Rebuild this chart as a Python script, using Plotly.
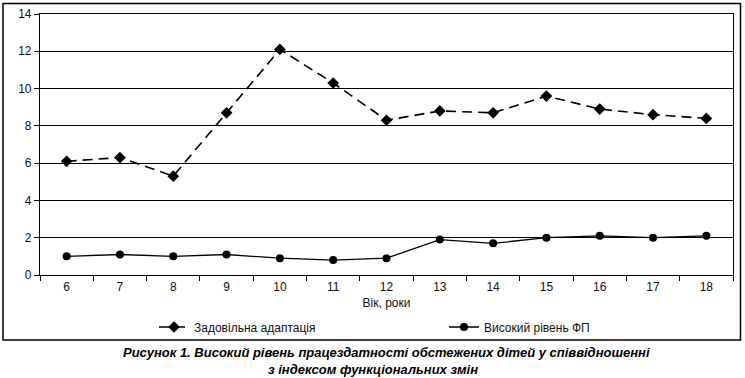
import plotly.graph_objects as go

ages = ["6", "7", "8", "9", "10", "11", "12", "13", "14", "15", "16", "17", "18"]
adaptation = [6.1, 6.3, 5.3, 8.7, 12.1, 10.3, 8.3, 8.8, 8.7, 9.6, 8.9, 8.6, 8.4]
high_fp = [1.0, 1.1, 1.0, 1.1, 0.9, 0.8, 0.9, 1.9, 1.7, 2.0, 2.1, 2.0, 2.1]
y_ticks = [0, 2, 4, 6, 8, 10, 12, 14]
series_names = ["Задовільна адаптація", "Високий рівень ФП"]
x_title = "Вік, роки"
caption_lines = ["Рисунок 1. Високий рівень працездатності обстежених дітей у співвідношенні",
                 "з індексом функціональних змін"]

W, H = 745, 378
L, R, T, B = 40, 12, 14, 103
pw, ph = W - L - R, H - T - B

def px_x(x):
    return (x - L) / pw

def px_y(y):
    return (H - B - y) / ph

fig = go.Figure()
fig.add_trace(go.Scatter(
    x=ages, y=adaptation, name=series_names[0], mode="lines+markers",
    line=dict(color="black", width=1.6, dash="10px,6px"),
    marker=dict(symbol="diamond", size=9, color="black"),
    legend="legend",
))
fig.add_trace(go.Scatter(
    x=ages, y=high_fp, name=series_names[1], mode="lines+markers",
    line=dict(color="black", width=1.3),
    marker=dict(symbol="circle", size=8, color="black"),
    legend="legend2",
))

font_main = "Liberation Sans, Arial, sans-serif"
leg_common = dict(orientation="h", xanchor="left", yanchor="middle", y=px_y(327),
                  font=dict(size=12, family=font_main, color="#111"),
                  bgcolor="rgba(0,0,0,0)", itemwidth=30)

fig.update_layout(
    width=W, height=H,
    margin=dict(l=L, r=R, t=T, b=B, autoexpand=False),
    paper_bgcolor="white", plot_bgcolor="white",
    showlegend=True,
    font=dict(family=font_main, size=12, color="#111"),
    legend=dict(x=px_x(154), **leg_common),
    legend2=dict(x=px_x(444), **leg_common),
    xaxis=dict(
        type="category", showgrid=False, showline=True, linecolor="black", linewidth=1.2,
        mirror=True, ticks="outside", ticklen=5, tickcolor="black",
        tickson="boundaries", tickfont=dict(size=12),
        title=dict(text=x_title, standoff=6, font=dict(size=12)),
        range=[-0.5, len(ages) - 0.5],
    ),
    yaxis=dict(
        range=[0, 14], tickvals=y_ticks, showgrid=True, gridcolor="black", gridwidth=1,
        showline=True, linecolor="black", linewidth=1.2, mirror=True,
        ticks="outside", ticklen=5, tickcolor="black", tickfont=dict(size=12),
        zeroline=False,
    ),
)

# outer frame
fig.add_shape(type="rect", xref="paper", yref="paper",
              x0=px_x(3), x1=px_x(740.5), y0=px_y(340), y1=px_y(3.5),
              line=dict(color="black", width=1.5), fillcolor="rgba(0,0,0,0)", layer="below")

cap_font = dict(family="Liberation Sans Narrow, Arial Narrow, Liberation Sans, sans-serif",
                size=13, color="black")
for i, (line, ypix) in enumerate(zip(caption_lines, [352, 369])):
    fig.add_annotation(text="<b><i>" + line + "</i></b>", xref="paper", yref="paper",
                       x=px_x(387 if i == 0 else 373), y=px_y(ypix), showarrow=False,
                       xanchor="center", yanchor="middle", font=cap_font)

fig.write_html("out.html", config={"displayModeBar": False},
               post_script="document.body.style.margin='0';document.body.style.overflow='hidden';")
